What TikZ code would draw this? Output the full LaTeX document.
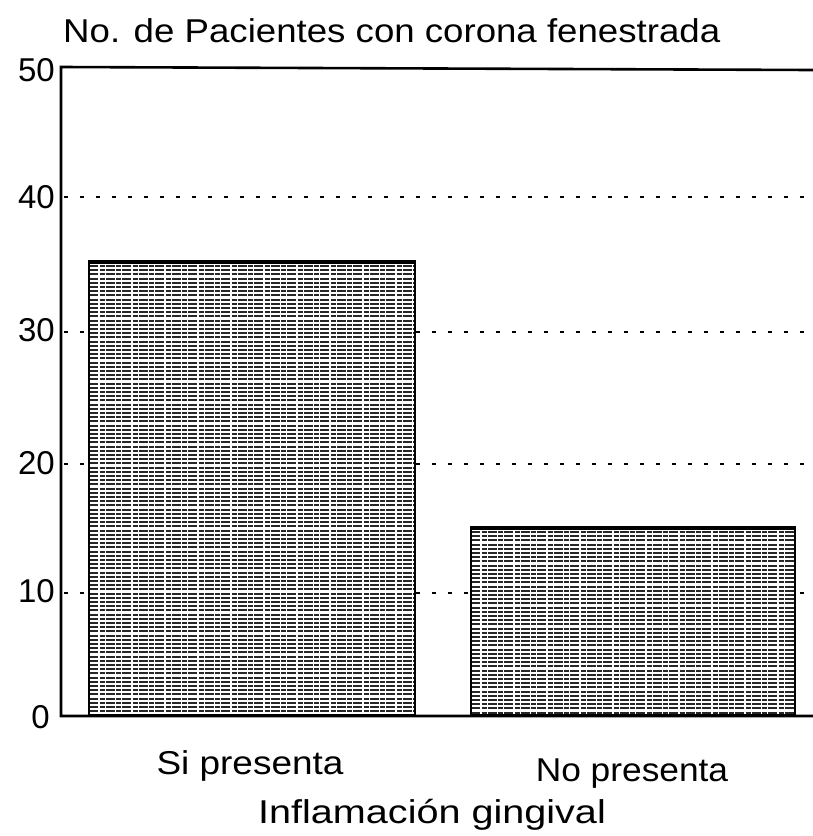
\documentclass[tikz,border=0pt]{standalone}
\usepackage{fontspec}
\setmainfont{Liberation Sans}
\begin{document}
\begin{tikzpicture}[x=1pt,y=-1pt,
  lbl/.style={inner sep=0pt, font=\fontsize{33}{38}\selectfont},
  axisline/.style={line width=2.6pt, line cap=rect},
  grid/.style={line width=2.6pt, dash pattern=on 4pt off 12pt},
  barbox/.style={draw=black, line width=2pt, fill=white, inner sep=0pt, anchor=south west,
    path picture={
      \foreach \k in {0,...,110}{
        \draw[line width=1.9pt, black!85, dash pattern=on 9pt off 1.5pt on 5pt off 1pt]
          ([yshift=-3pt-\k*4.2pt]path picture bounding box.north west) -- ++(340pt,0);
      }
    }}
]
\useasboundingbox (0,0) rectangle (812,836);
% axis frame
\coordinate (tl) at (61,67);
\coordinate (tr) at (812,70);
\coordinate (bl) at (61,716);
\coordinate (br) at (812,716);
% tick labels
\node[lbl, anchor=east] (t50) at (55,70) {50};
\node[lbl, anchor=east] (t40) at (55,197) {40};
\node[lbl, anchor=east] (t30) at (55,330) {30};
\node[lbl, anchor=east] (t20) at (55,463) {20};
\node[lbl, anchor=east] (t10) at (55,591) {10};
\node[lbl, anchor=east] (t0)  at (50,717) {0};
% grid lines
\foreach \n/\y in {40/197,30/332,20/464,10/593}{
  \coordinate (g\n a) at (64,\y);
  \coordinate (g\n b) at (812,\y);
  \draw[grid] (g\n a) -- (g\n b);
}
% bars
\node[barbox, minimum width=326pt, minimum height=452pt] (bar1) at (88,716) {};
\node[barbox, minimum width=324pt, minimum height=186pt] (bar2) at (470,716) {};
\draw[line width=4pt] (bar1.north west) -- (bar1.north east);
\draw[line width=4pt] (bar2.north west) -- (bar2.north east);
% axes
\draw[axisline] (tr) -- (tl) -- (bl) -- (br);
% texts
\node[lbl, anchor=base west] (title) at (63,42) {\scalebox{1.11}[1]{No. de Pacientes con corona fenestrada}};
\node[lbl, anchor=base] (c1) at (250,774) {\scalebox{1.12}[1]{Si presenta}};
\node[lbl, anchor=base] (c2) at (632,781) {\scalebox{1.07}[1]{No presenta}};
\node[lbl, anchor=base] (xl) at (432,823) {\scalebox{1.2}[1]{Inflamación gingival}};
\end{tikzpicture}
\end{document}
